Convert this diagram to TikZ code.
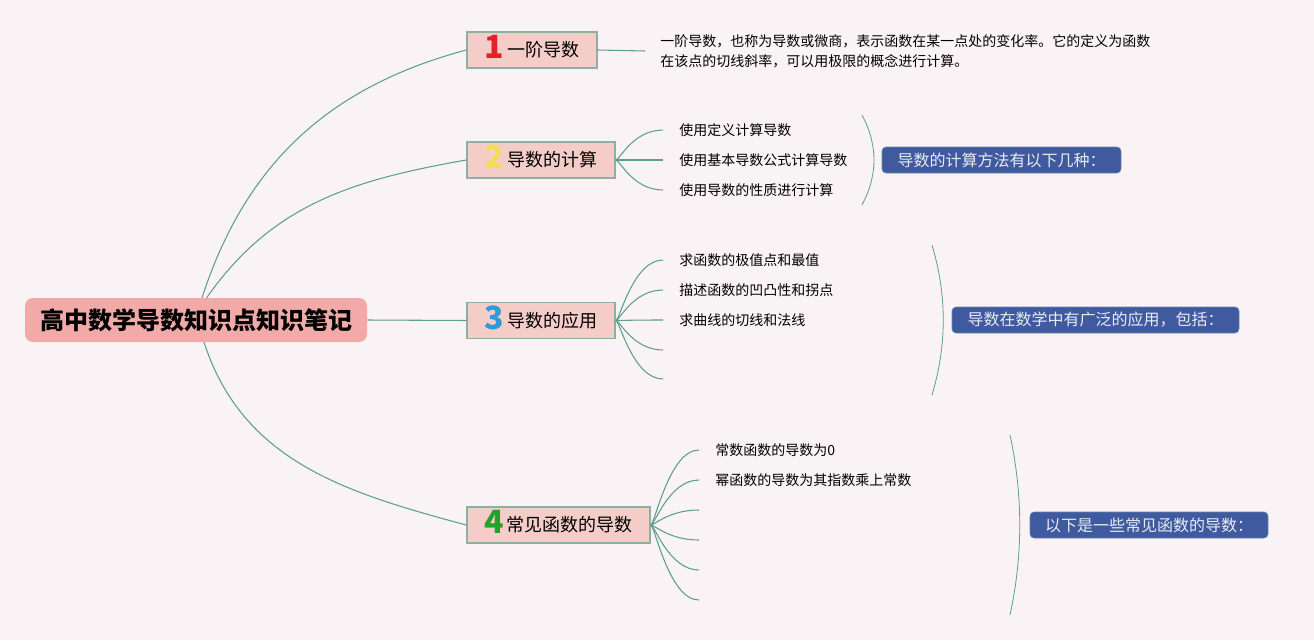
\documentclass[tikz,border=0pt]{standalone}
\usepackage{fontspec}
\setmainfont{Noto Sans CJK SC}
\usepackage{xcolor}

\definecolor{bgpink}{HTML}{F9F3F5}
\definecolor{rootpink}{HTML}{F2AAA8}
\definecolor{boxpink}{HTML}{F5CDC8}
\definecolor{boxgray}{HTML}{8FAFA3}
\definecolor{linkgreen}{HTML}{5F9E8C}
\definecolor{sumblue}{HTML}{405AA0}
\definecolor{sumborder}{HTML}{6A86A8}
\definecolor{sumtext}{HTML}{E8EAF3}
\definecolor{numred}{HTML}{E3202B}
\definecolor{numyellow}{HTML}{F5DC55}
\definecolor{numblue}{HTML}{2E9AD8}
\definecolor{numgreen}{HTML}{25A02A}

\newcommand{\topicnum}[2]{\raisebox{-1.5pt}[0pt][0pt]{\color{#1}\fontsize{24}{24}\selectfont\bfseries #2}\,}

\begin{document}
\begin{tikzpicture}[x=0.75pt, y=-0.75pt,
    link/.style={draw=linkgreen, line width=0.8pt},
    root/.style={fill=rootpink, rounded corners=6pt, minimum width=256.5pt, minimum height=33pt, inner sep=0pt, font=\fontsize{18}{20}\selectfont\bfseries},
    topic/.style={draw=boxgray, line width=1.1pt, fill=boxpink, minimum height=27pt, inner sep=0pt, font=\fontsize{13.5}{16}\selectfont},
    leaf/.style={anchor=west, inner xsep=12pt, inner ysep=1pt, font=\fontsize{10.5}{15}\selectfont},
    summary/.style={draw=sumborder, fill=sumblue, rounded corners=3pt, text=sumtext, minimum height=19.5pt, inner sep=0pt, font=\fontsize{12}{14}\selectfont}]
    \fill[bgpink] (0,0) rectangle (1314,640);
    \useasboundingbox (0,0) rectangle (1314,640);

    \node[root] (root) at (196,320) {高中数学导数知识点知识笔记};
    \node[topic, minimum width=97.5pt] (t1) at (532,50) {\topicnum{numred}{1}一阶导数};
    \node[topic, minimum width=111pt] (t2) at (541,160) {\topicnum{numyellow}{2}导数的计算};
    \node[topic, minimum width=111pt] (t3) at (541,320.5) {\topicnum{numblue}{3}导数的应用};
    \node[topic, minimum width=137.25pt] (t4) at (558.5,525) {\topicnum{numgreen}{4}常见函数的导数};

    \draw[link] ([xshift=4.5pt]root.north) to[out=72, in=195] (t1.west);
    \draw[link] ([xshift=8pt]root.north) to[out=55, in=190] (t2.west);
    \draw[link] (root.east) -- (t3.west);
    \draw[link] ([xshift=6pt]root.south) to[out=-72, in=165] (t4.west);

    \node[leaf, align=left, inner xsep=11.25pt] (desc) at (645,51) {一阶导数，也称为导数或微商，表示函数在某一点处的变化率。它的定义为函数\\在该点的切线斜率，可以用极限的概念进行计算。};
    \draw[link] (t1.east) -- (desc.west);

    \foreach \y/\txt [count=\i] in {130/使用定义计算导数, 160/使用基本导数公式计算导数, 190/使用导数的性质进行计算} {
      \node[leaf] (l2\i) at (663,\y) {\txt};
      \draw[link] (t2.east) .. controls +(4,0) and +(-30,0) .. (l2\i.west);
    }
    \foreach \y/\txt [count=\i] in {260/求函数的极值点和最值, 290/描述函数的凹凸性和拐点, 320/求曲线的切线和法线} {
      \node[leaf] (l3\i) at (663,\y) {\txt};
      \draw[link] (t3.east) .. controls +(4,0) and +(-30,0) .. (l3\i.west);
    }
    \foreach \y [count=\i] in {350, 379} {
      \coordinate (e3\i) at (663,\y);
      \draw[link] (t3.east) .. controls +(4,0) and +(-30,0) .. (e3\i);
    }
    \foreach \y/\txt [count=\i] in {450/常数函数的导数为0, 480/幂函数的导数为其指数乘上常数} {
      \node[leaf] (l4\i) at (699,\y) {\txt};
      \draw[link] (t4.east) .. controls +(4,0) and +(-30,0) .. (l4\i.west);
    }
    \foreach \y [count=\i] in {510, 540, 570, 600} {
      \coordinate (e4\i) at (699,\y);
      \draw[link] (t4.east) .. controls +(4,0) and +(-30,0) .. (e4\i);
    }

    \draw[link, line width=0.6pt] (862,115) .. controls (878,145) and (878,175) .. (862,205);
    \draw[link, line width=0.6pt] (932,245) .. controls (947,295) and (947,345) .. (932,395);
    \draw[link, line width=0.6pt] (1010,435) .. controls (1023,495) and (1023,555) .. (1010,615);

    \node[summary, minimum width=179.25pt] (s2) at (1001.5,160) {导数的计算方法有以下几种：};
    \node[summary, minimum width=215.25pt] (s3) at (1095.5,320) {导数在数学中有广泛的应用，包括：};
    \node[summary, minimum width=178.5pt] (s4) at (1149,525) {以下是一些常见函数的导数：};
\end{tikzpicture}
\end{document}
